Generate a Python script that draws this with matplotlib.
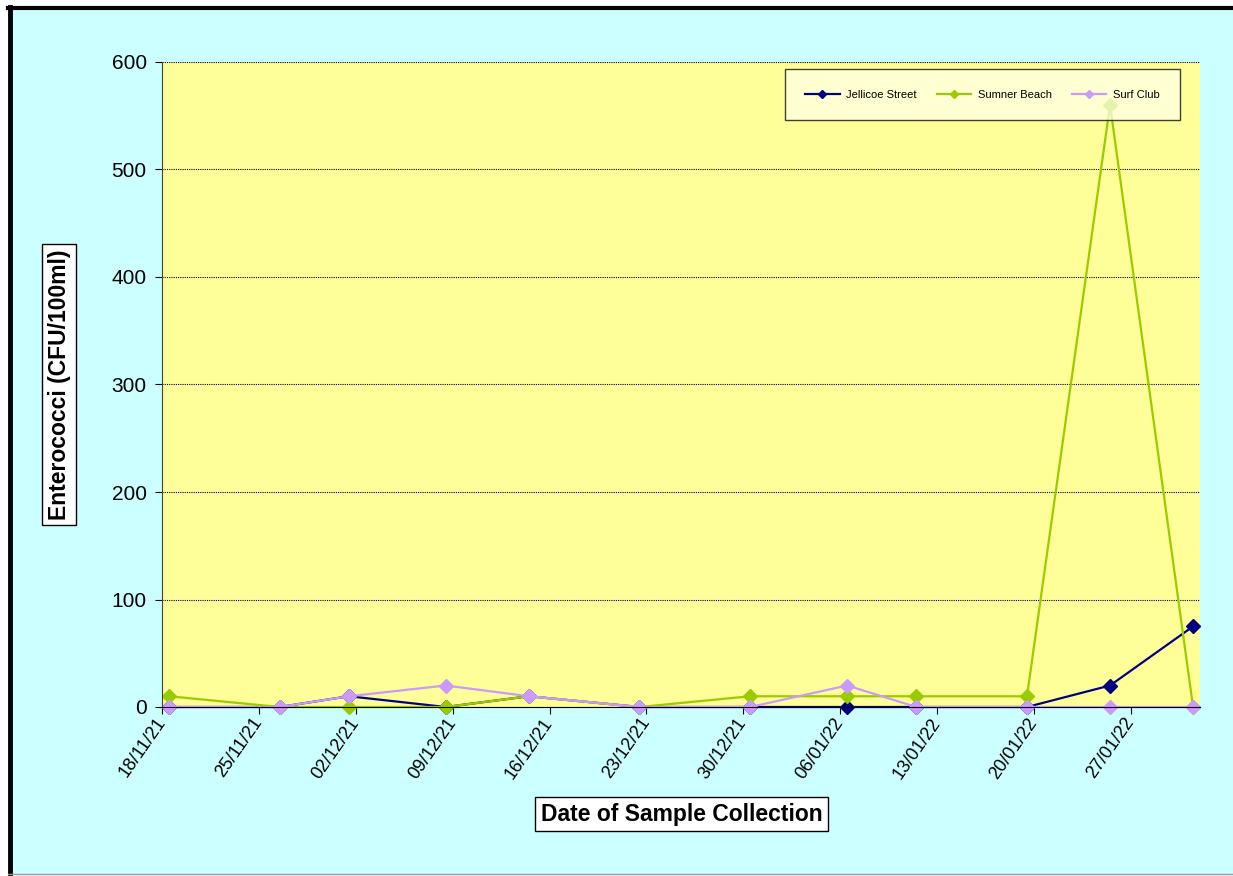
import numpy as np
import pandas as pd
import matplotlib.pyplot as plt
import matplotlib.dates as mdates
from matplotlib.lines import Line2D
from matplotlib.patches import Rectangle

plt.rcParams['font.family'] = ['Liberation Sans', 'DejaVu Sans']

# sample dates and counts (CFU/100ml)
dates = ['2021-11-18', '2021-11-26', '2021-12-01', '2021-12-08', '2021-12-14', '2021-12-22',
         '2021-12-30', '2022-01-06', '2022-01-11', '2022-01-19', '2022-01-25', '2022-01-31']
jellicoe = [0, 0, 10, 0, 10, 0, 0, 0, 0, 0, 20, 75]
sumner = [10, 0, 0, 0, 10, 0, 10, 10, 10, 10, 560, 0]
surf_club = [0, 0, 10, 20, 10, 0, 0, 20, 0, 0, 0, 0]
tick_dates = pd.date_range('2021-11-18', '2022-01-27', freq='7D')

x = pd.to_datetime(dates) + pd.Timedelta(hours=12)  # excel puts points mid-day

fig = plt.figure(figsize=(12.33, 8.76), dpi=100, facecolor='white')
# chart area background + border
fig.add_artist(Rectangle((10 / 1233, 2 / 876), 1, 867 / 876, transform=fig.transFigure,
                         facecolor='#CCFFFF', edgecolor='none', zorder=-5))
fig.add_artist(Line2D([9.5 / 1233, 9.5 / 1233], [2 / 876, 869 / 876], transform=fig.transFigure,
                      color='black', lw=3.5))
fig.add_artist(Line2D([8 / 1233, 1], [868.5 / 876, 868.5 / 876], transform=fig.transFigure,
                      color='black', lw=3))
fig.add_artist(Line2D([8 / 1233, 1], [2 / 876, 2 / 876], transform=fig.transFigure,
                      color='#999999', lw=1))

ax = fig.add_axes([162 / 1233, 169 / 876, 1038 / 1233, 645 / 876])
ax.set_facecolor('#FFFF99')
ax.spines['top'].set_visible(False)
ax.spines['right'].set_visible(False)
ax.spines['left'].set_color('#404040')
ax.spines['bottom'].set_color('black')

ax.plot(x, jellicoe, marker='D', color='#000080', markersize=7, lw=1.6, label='Jellicoe Street', clip_on=False)
ax.plot(x, sumner, marker='D', color='#99CC00', markersize=7, lw=1.6, label='Sumner Beach', clip_on=False)
ax.plot(x, surf_club, marker='D', color='#CC99FF', markersize=7, lw=1.6, label='Surf Club', clip_on=False)

ax.set_ylim(0, 600)
ax.set_yticks(np.arange(0, 601, 100))
ax.yaxis.grid(True, linestyle=(0, (1, 1)), color='black', lw=0.8)
ax.set_axisbelow(True)
ax.set_xlim(pd.Timestamp('2021-11-18'), pd.Timestamp('2022-02-01'))
ax.set_xticks(tick_dates)
ax.xaxis.set_major_formatter(mdates.DateFormatter('%d/%m/%y'))
ax.tick_params(axis='both', direction='out', length=5, labelsize=15)
ax.tick_params(axis='y', pad=6)
ax.tick_params(axis='x', pad=4)
plt.setp(ax.get_xticklabels(), rotation=55, ha='right', va='center', rotation_mode='anchor', fontsize=13)

ax.set_ylabel('Enterococci (CFU/100ml)', fontsize=16.5, fontweight='bold',
              bbox=dict(facecolor='white', edgecolor='black', pad=4, lw=1))
ax.yaxis.set_label_coords(-0.088, 0.5)
ax.set_xlabel('Date of Sample Collection', fontsize=16.5, fontweight='bold',
              bbox=dict(facecolor='white', edgecolor='black', pad=4, lw=1))
ax.xaxis.set_label_coords(0.5005, -0.1485)

leg = ax.legend(loc='upper right', bbox_to_anchor=(0.981, 0.989), ncol=3, fontsize=8,
                frameon=True, fancybox=False, markerscale=0.55, handlelength=3.1,
                columnspacing=1.8, borderpad=1.85, handletextpad=0.6, borderaxespad=0)
leg.get_frame().set_facecolor('#FFFFE6')
leg.get_frame().set_edgecolor('black')
leg.get_frame().set_alpha(0.75)

plt.savefig('out.png', dpi=100, facecolor=fig.get_facecolor())
